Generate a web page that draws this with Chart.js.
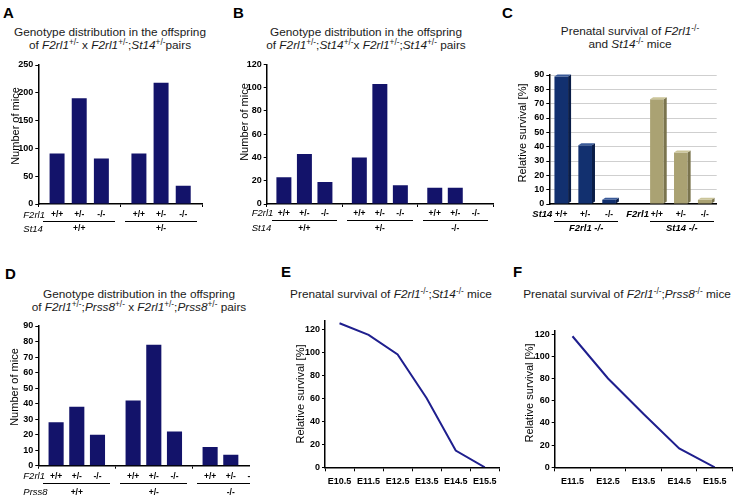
<!DOCTYPE html>
<html>
<head>
<meta charset="utf-8">
<script src="https://cdn.jsdelivr.net/npm/chart.js@4"></script>
<style>
html,body{margin:0;padding:0;background:#fff;}
body{width:737px;height:499px;position:relative;overflow:hidden;font-family:"Liberation Sans",Arial,sans-serif;color:#111;}
canvas{position:absolute;}
.letter{position:absolute;font-weight:bold;font-size:15px;line-height:15px;color:#000;}
.title{position:absolute;font-size:11.8px;line-height:13.4px;text-align:center;white-space:nowrap;color:#1a1a1a;}
.title sup{font-size:0.7em;vertical-align:0.5em;line-height:0;}
.ytitle{position:absolute;width:130px;height:12px;font-size:11px;line-height:12px;text-align:center;white-space:nowrap;transform:rotate(-90deg);color:#000;}
.clip{position:absolute;overflow:hidden;}
</style>
</head>
<body>
<div class="letter" style="left:3px;top:5px">A</div>
<div class="letter" style="left:233px;top:5px">B</div>
<div class="letter" style="left:502px;top:5px">C</div>
<div class="letter" style="left:5px;top:266px">D</div>
<div class="letter" style="left:281px;top:264px">E</div>
<div class="letter" style="left:513px;top:264px">F</div>

<div class="title" style="left:0;width:220px;top:26px">Genotype distribution in the offspring<br>of <i>F2rl1</i><sup>+/-</sup> x <i>F2rl1</i><sup>+/-</sup>;<i>St14</i><sup>+/-</sup>pairs</div>
<div class="title" style="left:246px;width:240px;top:26px">Genotype distribution in the offspring<br>of <i>F2rl1</i><sup>+/-</sup>;<i>St14</i><sup>+/-</sup>x <i>F2rl1</i><sup>+/-</sup>;<i>St14</i><sup>+/-</sup> pairs</div>
<div class="title" style="left:560px;width:140px;top:25px">Prenatal survival of <i>F2rl1</i><sup>-/-</sup><br>and <i>St14</i><sup>-/-</sup> mice</div>
<div class="title" style="left:19px;width:240px;top:288px">Genotype distribution in the offspring<br>of <i>F2rl1</i><sup>+/-</sup>;<i>Prss8</i><sup>+/-</sup> x <i>F2rl1</i><sup>+/-</sup>;<i>Prss8</i><sup>+/-</sup> pairs</div>
<div class="title" style="left:281px;width:220px;top:288px">Prenatal survival of <i>F2rl1</i><sup>-/-</sup>;<i>St14</i><sup>-/-</sup> mice</div>
<div class="title" style="left:517px;width:220px;top:288px">Prenatal survival of <i>F2rl1</i><sup>-/-</sup>;<i>Prss8</i><sup>-/-</sup> mice</div>

<canvas id="cA" width="215" height="185" style="left:0;top:55px"></canvas>
<canvas id="cB" width="253" height="185" style="left:245px;top:55px"></canvas>
<canvas id="cC" width="212" height="180" style="left:525px;top:60px"></canvas>
<div class="clip" style="left:0;top:310px;width:250px;height:189px"><canvas id="cD" width="280" height="189" style="left:0;top:0"></canvas></div>
<canvas id="cE" width="215" height="189" style="left:290px;top:310px"></canvas>
<canvas id="cF" width="217" height="189" style="left:520px;top:310px"></canvas>

<div class="ytitle" style="left:-50px;top:120px">Number of mice</div>
<div class="ytitle" style="left:179px;top:116px">Number of mice</div>
<div class="ytitle" style="left:457px;top:127px">Relative survival [%]</div>
<div class="ytitle" style="left:-51px;top:381px">Number of mice</div>
<div class="ytitle" style="left:235px;top:388px">Relative survival [%]</div>
<div class="ytitle" style="left:464px;top:387px">Relative survival [%]</div>

<script>
// ---------- DATA ----------
// Panel A: offspring of F2rl1+/- x F2rl1+/-;St14+/- pairs
const aSt14Groups = ['+/+', '+/-'];
const aF2rl1Genotypes = ['+/+', '+/-', '-/-'];
const aF2rl1WT  = [91, 91];
const aF2rl1Het = [190, 218];
const aF2rl1KO  = [82, 33];
const aYTicks = [0, 50, 100, 150, 200, 250];

// Panel B: offspring of F2rl1+/-;St14+/- x F2rl1+/-;St14+/- pairs
const bSt14Groups = ['+/+', '+/-', '-/-'];
const bF2rl1Genotypes = ['+/+', '+/-', '-/-'];
const bF2rl1WT  = [23, 40, 14];
const bF2rl1Het = [43, 103, 14];
const bF2rl1KO  = [19, 16, 0];
const bYTicks = [0, 20, 40, 60, 80, 100, 120];

// Panel C: prenatal survival
const cGenotypes = ['+/+', '+/-', '-/-'];
const cF2rl1KOSurvival = [89, 41, 3];   // F2rl1 -/- by St14 genotype
const cSt14KOSurvival  = [73, 36, 3];   // St14 -/- by F2rl1 genotype
const cYTicks = [0, 10, 20, 30, 40, 50, 60, 70, 80, 90];

// Panel D: offspring of F2rl1+/-;Prss8+/- x F2rl1+/-;Prss8+/- pairs
const dPrss8Groups = ['+/+', '+/-', '-/-'];
const dF2rl1Genotypes = ['+/+', '+/-', '-/-'];
const dF2rl1WT  = [28, 42, 12];
const dF2rl1Het = [38, 78, 7];
const dF2rl1KO  = [20, 22, 0];
const dYTicks = [0, 10, 20, 30, 40, 50, 60, 70, 80, 90];

// Panel E: prenatal survival of F2rl1-/-;St14-/- mice
const eStages = ['E10.5', 'E11.5', 'E12.5', 'E13.5', 'E14.5', 'E15.5'];
const eSurvival = [125, 115, 98, 60, 14.5, 0];
const eYTicks = [0, 20, 40, 60, 80, 100, 120];

// Panel F: prenatal survival of F2rl1-/-;Prss8-/- mice
const fStages = ['E11.5', 'E12.5', 'E13.5', 'E14.5', 'E15.5'];
const fSurvival = [118, 80, 48, 17, 0];
const fYTicks = [0, 20, 40, 60, 80, 100, 120];

// ---------- STYLE ----------
const FONT = '"Liberation Sans", Arial, sans-serif';
Chart.defaults.font.family = FONT;
Chart.defaults.color = '#000';
Chart.defaults.animation = false;
const NAVY = '#13136a';
const LINE = '#1f1f8e';
const TICK_FONT = { size: 9, weight: 'bold' };

function yScale(ticks, max, width) {
  return {
    min: 0, max: max,
    afterBuildTicks: s => { s.ticks = ticks.map(v => ({ value: v })); },
    ticks: { font: TICK_FONT, color: '#000', padding: 2 },
    grid: { drawOnChartArea: false, tickLength: 3, color: '#000' },
    border: { color: '#000', width: 1.5 },
    afterFit: s => { s.width = width; }
  };
}

function genoRows(o) {
  return {
    id: 'genoRows',
    afterDraw(chart) {
      const { ctx, chartArea: a, scales: { x } } = chart;
      ctx.save();
      ctx.fillStyle = '#000'; ctx.strokeStyle = '#000'; ctx.lineWidth = 1;
      ctx.textBaseline = 'middle';
      const y1 = a.bottom + o.dy1, yl = a.bottom + o.dyLine, y2 = a.bottom + o.dy2;
      ctx.font = 'italic 9.5px ' + FONT; ctx.textAlign = 'left';
      ctx.fillText(o.head1, a.left - 15, y1);
      ctx.fillText(o.head2, a.left - 15, y2);
      ctx.font = 'bold 8.5px ' + FONT; ctx.textAlign = 'center';
      chart.data.datasets.forEach((ds, d) => {
        chart.getDatasetMeta(d).data.forEach(bar => ctx.fillText(ds.label, bar.x, y1));
      });
      const half = (a.right - a.left) / chart.data.labels.length / 2;
      chart.data.labels.forEach((g, i) => {
        const cx = x.getPixelForValue(i);
        ctx.fillText(g, cx, y2);
        ctx.beginPath();
        ctx.moveTo(Math.round(cx - half + o.inset), Math.round(yl) + 0.5);
        ctx.lineTo(Math.round(cx + half - o.inset), Math.round(yl) + 0.5);
        ctx.stroke();
      });
      ctx.restore();
    }
  };
}

function groupedBar(id, groups, genotypes, series, yTicks, cfg, rows) {
  return new Chart(document.getElementById(id), {
    type: 'bar',
    data: {
      labels: groups,
      datasets: series.map((s, k) => ({
        label: genotypes[k], data: s, backgroundColor: NAVY, borderWidth: 0,
        categoryPercentage: cfg.cat, barPercentage: cfg.bar
      }))
    },
    options: {
      responsive: false, animation: false,
      layout: { padding: { top: cfg.padTop, right: cfg.padRight, left: 0, bottom: 0 } },
      plugins: { legend: { display: false }, tooltip: { enabled: false } },
      scales: {
        x: {
          type: 'category', offset: true,
          grid: { display: true, drawOnChartArea: false, tickLength: 3, color: '#000', offset: true },
          ticks: { display: false },
          border: { color: '#000', width: 1.5 },
          afterFit: s => { s.height = cfg.xH; }
        },
        y: yScale(yTicks, yTicks[yTicks.length - 1], cfg.yW)
      }
    },
    plugins: [genoRows(rows)]
  });
}

groupedBar('cA', aSt14Groups, aF2rl1Genotypes, [aF2rl1WT, aF2rl1Het, aF2rl1KO], aYTicks,
  { cat: 0.812, bar: 0.676, padTop: 10, padRight: 13, yW: 38.3, xH: 36 },
  { head1: 'F2rl1', head2: 'St14', dy1: 11, dyLine: 17, dy2: 25, inset: 5 });

groupedBar('cB', bSt14Groups, bF2rl1Genotypes, [bF2rl1WT, bF2rl1Het, bF2rl1KO], bYTicks,
  { cat: 0.816, bar: 0.73, padTop: 9.3, padRight: 5, yW: 21.7, xH: 36 },
  { head1: 'F2rl1', head2: 'St14', dy1: 9.5, dyLine: 15.5, dy2: 24.5, inset: 5 });

groupedBar('cD', dPrss8Groups, dF2rl1Genotypes, [dF2rl1WT, dF2rl1Het, dF2rl1KO], dYTicks,
  { cat: 0.806, bar: 0.73, padTop: 16, padRight: 10.7, yW: 38.3, xH: 33.3 },
  { head1: 'F2rl1', head2: 'Prss8', dy1: 10.5, dyLine: 17.5, dy2: 27, inset: 5 });

// ---------- Panel C ----------
const bar3d = {
  id: 'bar3d',
  afterDatasetsDraw(chart) {
    const ctx = chart.ctx;
    ctx.save();
    chart.data.datasets.forEach((ds, d) => {
      chart.getDatasetMeta(d).data.forEach((b, i) => {
        if (ds.data[i] == null) return;
        const { x, y, base, width } = b.getProps(['x', 'y', 'base', 'width'], true);
        const l = x - width / 2, r = x + width / 2, dx = 3, dy = 2;
        ctx.fillStyle = ds.sideColor;
        ctx.beginPath(); ctx.moveTo(r, y); ctx.lineTo(r + dx, y - dy); ctx.lineTo(r + dx, base - dy); ctx.lineTo(r, base); ctx.closePath(); ctx.fill();
        ctx.fillStyle = ds.topColor;
        ctx.beginPath(); ctx.moveTo(l, y); ctx.lineTo(l + dx, y - dy); ctx.lineTo(r + dx, y - dy); ctx.lineTo(r, y); ctx.closePath(); ctx.fill();
      });
    });
    ctx.restore();
  }
};
const cRowLabels = {
  id: 'cRowLabels',
  afterDraw(chart) {
    const { ctx, chartArea: a, scales: { x } } = chart;
    ctx.save();
    ctx.fillStyle = '#000'; ctx.strokeStyle = '#000'; ctx.lineWidth = 1; ctx.textBaseline = 'middle';
    const y1 = a.bottom + 10.3, yl = a.bottom + 17, y2 = a.bottom + 24.5;
    ctx.font = 'bold 8.5px ' + FONT; ctx.textAlign = 'center';
    chart.data.labels.forEach((l, i) => ctx.fillText(l, x.getPixelForValue(i), y1));
    ctx.font = 'italic bold 9.5px ' + FONT; ctx.textAlign = 'left';
    ctx.fillText('St14', a.left - 17, y1);
    ctx.textAlign = 'right';
    ctx.fillText('F2rl1', x.getPixelForValue(4) - 8, y1);
    ctx.textAlign = 'center';
    const half = (a.right - a.left) / chart.data.labels.length / 2;
    [[0, 2, 'F2rl1 -/-'], [4, 6, 'St14 -/-']].forEach(([i0, i1, t]) => {
      const l = x.getPixelForValue(i0) - half + 5, r = x.getPixelForValue(i1) + half - 3;
      ctx.beginPath(); ctx.moveTo(Math.round(l), Math.round(yl) + 0.5); ctx.lineTo(Math.round(r), Math.round(yl) + 0.5); ctx.stroke();
      ctx.fillText(t, (l + r) / 2, y2);
    });
    ctx.restore();
  }
};
const cLabels = [...cGenotypes, '', ...cGenotypes];
const cGap = cLabels.map(() => null);
new Chart(document.getElementById('cC'), {
  type: 'bar',
  data: {
    labels: cLabels,
    datasets: [
      { data: [...cF2rl1KOSurvival, ...cGap.slice(3)], backgroundColor: '#12306f', sideColor: '#0a1d47', topColor: '#3a5a98', borderWidth: 0 },
      { data: [...cGap.slice(3), ...cSt14KOSurvival], backgroundColor: '#aaa273', sideColor: '#7a744e', topColor: '#cbc59a', borderWidth: 0 }
    ]
  },
  options: {
    responsive: false, animation: false,
    datasets: { bar: { grouped: false, categoryPercentage: 1, barPercentage: 0.57, skipNull: true } },
    layout: { padding: { top: 15, right: 20.3, left: 0, bottom: 0 } },
    plugins: { legend: { display: false }, tooltip: { enabled: false } },
    scales: {
      x: {
        type: 'category', offset: true,
        grid: { display: false }, ticks: { display: false },
        border: { color: '#000', width: 1.5 },
        afterFit: s => { s.height = 36; }
      },
      y: {
        min: 0, max: 90,
        afterBuildTicks: s => { s.ticks = cYTicks.map(v => ({ value: v })); },
        ticks: { font: TICK_FONT, color: '#000', padding: 2 },
        grid: { drawOnChartArea: true, tickLength: 3, color: '#cfcfcf', tickColor: '#000' },
        border: { color: '#000', width: 1.5 },
        afterFit: s => { s.width = 24.3; }
      }
    }
  },
  plugins: [bar3d, cRowLabels]
});

// ---------- Panels E, F ----------
function survivalLine(id, stages, values, yTicks, yMax, cfg) {
  return new Chart(document.getElementById(id), {
    type: 'line',
    data: { labels: stages, datasets: [{ data: values, borderColor: LINE, borderWidth: 2, pointRadius: 0, tension: 0, fill: false }] },
    options: {
      responsive: false, animation: false,
      layout: { padding: { top: cfg.padTop, right: cfg.padRight, left: 0, bottom: 0 } },
      plugins: { legend: { display: false }, tooltip: { enabled: false } },
      scales: {
        x: {
          type: 'category', offset: true,
          grid: { offset: true, drawOnChartArea: false, tickLength: 4, color: '#000' },
          ticks: { font: TICK_FONT, color: '#000', padding: 5, maxRotation: 0, autoSkip: false },
          border: { color: '#000', width: 1.5 },
          afterFit: s => { s.height = cfg.xH; }
        },
        y: yScale(yTicks, yMax, cfg.yW)
      }
    }
  });
}
survivalLine('cE', eStages, eSurvival, eYTicks, 127, { padTop: 11, padRight: 5.7, yW: 35, xH: 31.7 });
survivalLine('cF', fStages, fSurvival, fYTicks, 123, { padTop: 20.7, padRight: 4.5, yW: 34.7, xH: 31.7 });
</script>
</body>
</html>
